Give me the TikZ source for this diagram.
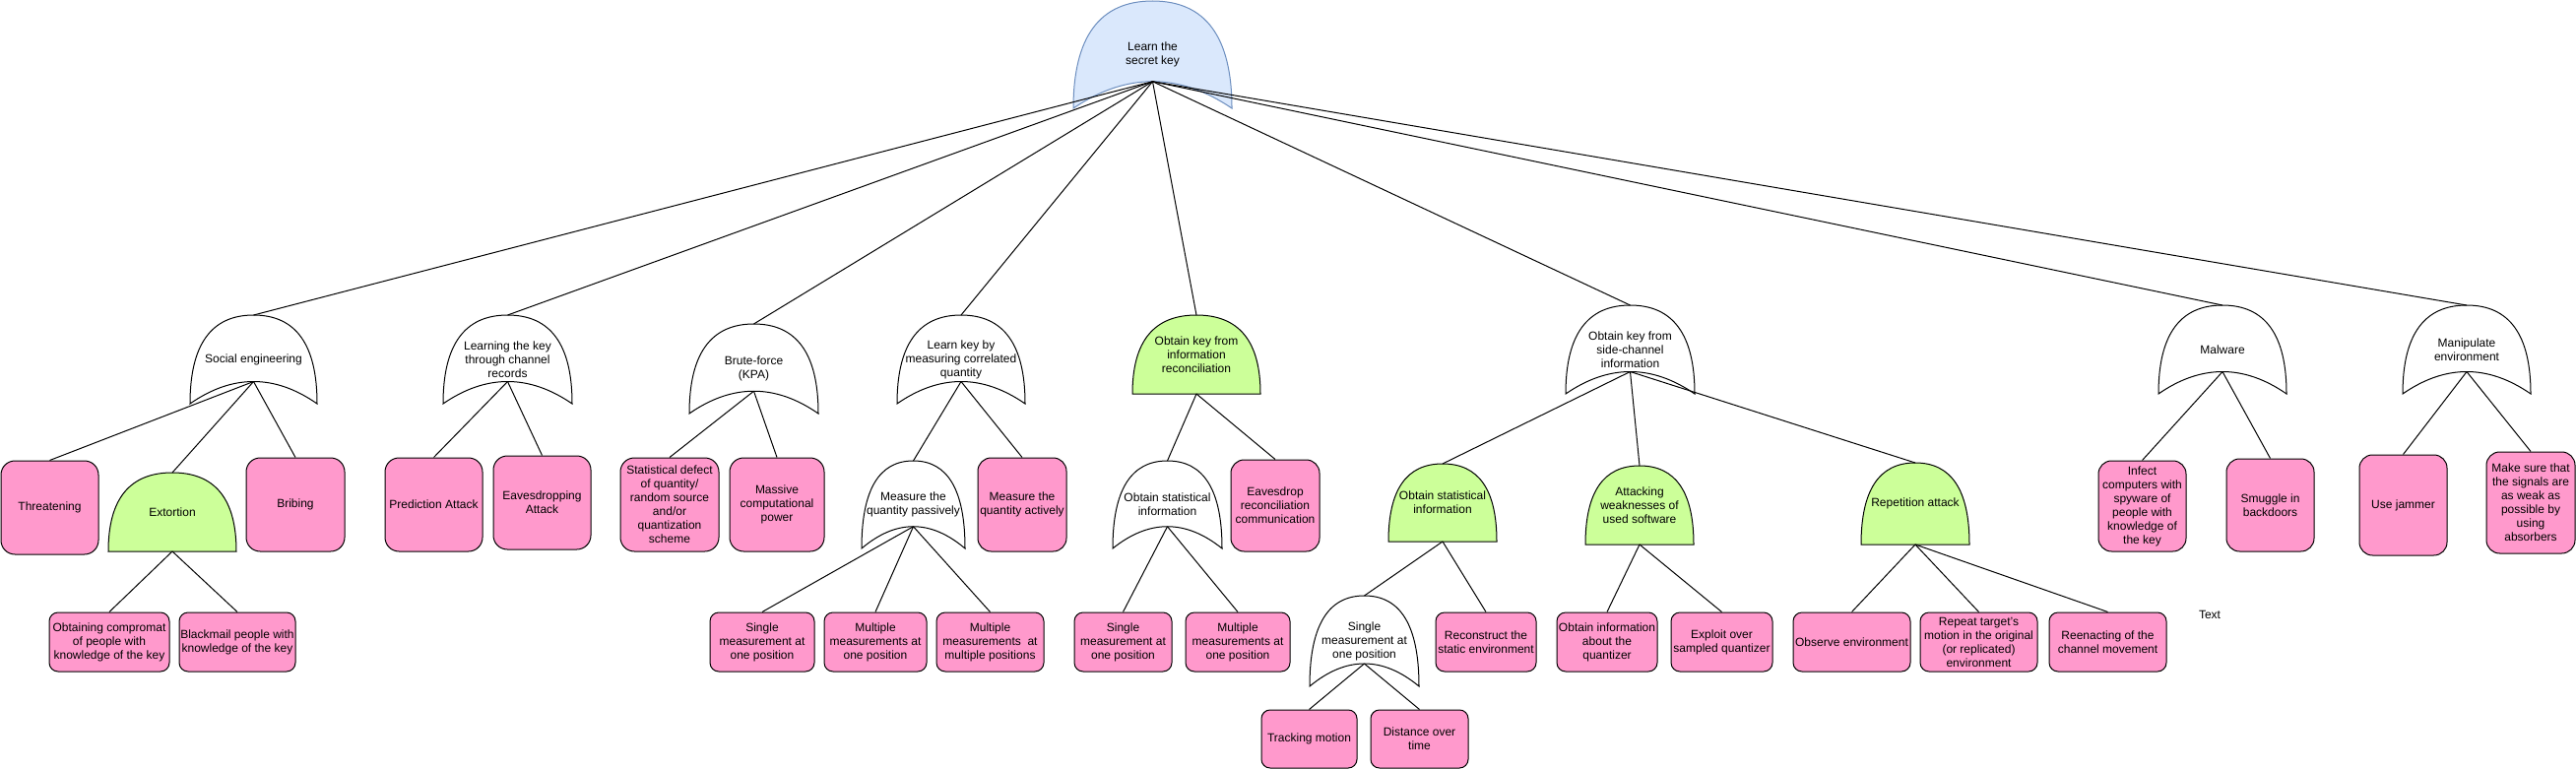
\documentclass[tikz,border=0pt]{standalone}
\usepackage{fontspec}
\setmainfont{Liberation Sans}
\definecolor{pinkc}{HTML}{FF99CC}
\definecolor{greenc}{HTML}{CCFF99}
\definecolor{rootfill}{HTML}{DAE8FC}
\definecolor{rootdraw}{HTML}{6C8EBF}
\tikzset{
  every node/.style={font=\fontsize{12}{14}\selectfont},
  gate/.style={draw=black, line width=1pt, fill=white},
  greengate/.style={draw=black, line width=1pt, fill=greenc},
  rootgate/.style={draw=rootdraw, line width=1pt, fill=rootfill},
  gtext/.style={align=center, inner sep=0pt},
  box/.style={draw=black, line width=1pt, fill=pinkc, align=center, inner sep=1pt},
  edge/.style={draw=black, line width=1pt},
}
% OR gate: style, name, L, T, R, B, text
\newcommand\orgate[7]{%
  \pgfmathsetmacro\gcx{(#3+#5)/2}%
  \pgfmathsetmacro\gw{#5-#3}%
  \pgfmathsetmacro\gh{#6-#4}%
  \draw[#1] (#3,#6) .. controls (#3,#6-2*\gh/3) and (\gcx-\gw/3,#4) .. (\gcx,#4)
     .. controls (\gcx+\gw/3,#4) and (#5,#6-2*\gh/3) .. (#5,#6)
     .. controls (#5-\gw/3,#6-\gh/3) and (#3+\gw/3,#6-\gh/3) .. cycle;
  \node[gtext] (#2) at (\gcx,{(#4+#6)/2}) {#7};
  \coordinate (#2-in) at (\gcx,#4);
  \coordinate (#2-out) at (\gcx,{#6-\gh/4});
}
% AND gate: style, name, L, T, R, B, text
\newcommand\andgate[7]{%
  \pgfmathsetmacro\gcx{(#3+#5)/2}%
  \pgfmathsetmacro\gw{#5-#3}%
  \pgfmathsetmacro\gh{#6-#4}%
  \draw[#1] (#3,#6) .. controls (#3,#6-2*\gh/3) and (\gcx-\gw/3,#4) .. (\gcx,#4)
     .. controls (\gcx+\gw/3,#4) and (#5,#6-2*\gh/3) .. (#5,#6) -- cycle;
  \node[gtext] (#2) at (\gcx,{(#4+#6)/2}) {#7};
  \coordinate (#2-in) at (\gcx,#4);
  \coordinate (#2-out) at (\gcx,#6);
}
% box: name, L, T, R, B, text
\newcommand\bx[6]{%
  \pgfmathsetmacro\bw{#4-#2}%
  \pgfmathsetmacro\bh{#5-#3}%
  \pgfmathsetmacro\br{0.15*min(\bw,\bh)}%
  \node[box, minimum width=\bw pt, minimum height=\bh pt, rounded corners=\br pt] (#1) at ({(#2+#4)/2},{(#3+#5)/2}) {#6};
}
\begin{document}
\begin{tikzpicture}[x=1pt,y=-1pt]
\useasboundingbox (0,0) rectangle (2616,781);
\fill[white] (0,0) rectangle (2616,781);

% root
\orgate{rootgate}{root}{1090}{1}{1251}{110}{Learn the\\secret key}

% level 1
\orgate{gate}{social}{193}{320}{322}{410}{Social engineering}
\orgate{gate}{chan}{450}{320}{581}{410}{Learning the key\\through channel\\records}
\orgate{gate}{brute}{700}{329}{831}{420}{Brute-force\\(KPA)}
\orgate{gate}{corr}{911}{320}{1041}{410}{Learn key by\\measuring correlated\\quantity}
\andgate{greengate}{info}{1150}{320}{1280}{400}{Obtain key from\\information\\reconciliation}
\orgate{gate}{side}{1590}{310}{1721}{400}{Obtain key from\\side-channel\\information}
\orgate{gate}{mal}{2192}{310}{2322}{400}{Malware}
\orgate{gate}{manip}{2440}{310}{2570}{400}{Manipulate\\environment}

% social engineering subtree
\bx{threat}{1}{468}{100}{563}{Threatening}
\andgate{greengate}{extort}{110}{480}{240}{560}{Extortion}
\bx{bribe}{250}{465}{350}{560}{Bribing}
\bx{compromat}{50}{622}{172}{682}{Obtaining compromat\\of people with\\knowledge of the key}
\bx{blackmail}{182}{622}{300}{682}{Blackmail people with\\knowledge of the key}

% channel records
\bx{pred}{391}{465}{490}{560}{Prediction Attack}
\bx{eavatt}{501}{463}{600}{558}{Eavesdropping\\Attack}

% brute force
\bx{statdef}{630}{465}{730}{560}{Statistical defect\\of quantity/\\random source\\and/or\\quantization\\scheme}
\bx{massive}{741}{465}{837}{560}{Massive\\computational\\power}

% correlated quantity
\orgate{gate}{passive}{875}{468}{980}{557}{Measure the\\quantity passively}
\bx{active}{993}{465}{1083}{560}{Measure the\\quantity actively}
\bx{singleA}{721}{622}{827}{682}{Single\\measurement at\\one position}
\bx{multiA}{837}{622}{941}{682}{Multiple\\measurements at\\one position}
\bx{multimulti}{951}{622}{1060}{682}{Multiple\\measurements~ at\\multiple positions}

% information reconciliation
\orgate{gate}{statw}{1130}{468}{1241}{557}{Obtain statistical\\information}
\bx{eavrec}{1250}{467}{1340}{560}{Eavesdrop\\reconciliation\\communication}
\bx{singleB}{1091}{622}{1190}{682}{Single\\measurement at\\one position}
\bx{multiB}{1204}{622}{1310}{682}{Multiple\\measurements at\\one position}

% side channel
\andgate{greengate}{statg}{1410}{471}{1520}{550}{Obtain statistical\\information}
\andgate{greengate}{attack}{1610}{473}{1720}{553}{Attacking\\weaknesses of\\used software}
\andgate{greengate}{rep}{1890}{470}{2000}{553}{Repetition attack}
\orgate{gate}{singleC}{1330}{605}{1441}{697}{Single\\measurement at\\one position}
\bx{recon}{1458}{622}{1560}{682}{Reconstruct the\\static environment}
\bx{track}{1281}{721}{1378}{780}{Tracking motion}
\bx{dist}{1392}{721}{1491}{780}{Distance over\\time}
\bx{quant}{1581}{622}{1683}{682}{Obtain information\\about the\\quantizer}
\bx{exploit}{1697}{622}{1800}{682}{Exploit over\\sampled quantizer}
\bx{observe}{1821}{622}{1940}{682}{Observe environment}
\bx{repeat}{1950}{622}{2069}{682}{Repeat target's\\motion in the original\\(or replicated)\\environment}
\bx{reenact}{2081}{622}{2200}{682}{Reenacting of the\\channel movement}

% malware
\bx{infect}{2131}{468}{2220}{560}{Infect\\computers with\\spyware of\\people with\\knowledge of\\the key}
\bx{smuggle}{2261}{466}{2350}{560}{Smuggle in\\backdoors}

% manipulate
\bx{jammer}{2396}{462}{2485}{564}{Use jammer}
\bx{makesure}{2525}{459}{2615}{562}{Make sure that\\the signals are\\as weak as\\possible by\\using\\absorbers}

\node[inner sep=0pt] (textlbl) at (2244,624) {Text};

% connectors
\foreach \t in {social,chan,brute,corr,info,side,mal,manip}
  \draw[edge] (root-out) -- (\t-in);
\draw[edge] (social-out) -- (threat.north);
\draw[edge] (social-out) -- (extort-in);
\draw[edge] (social-out) -- (bribe.north);
\draw[edge] (extort-out) -- (compromat.north);
\draw[edge] (extort-out) -- (blackmail.north);
\draw[edge] (chan-out) -- (pred.north);
\draw[edge] (chan-out) -- (eavatt.north);
\draw[edge] (brute-out) -- (statdef.north);
\draw[edge] (brute-out) -- (massive.north);
\draw[edge] (corr-out) -- (passive-in);
\draw[edge] (corr-out) -- (active.north);
\draw[edge] (passive-out) -- (singleA.north);
\draw[edge] (passive-out) -- (multiA.north);
\draw[edge] (passive-out) -- (multimulti.north);
\draw[edge] (info-out) -- (statw-in);
\draw[edge] (info-out) -- (eavrec.north);
\draw[edge] (statw-out) -- (singleB.north);
\draw[edge] (statw-out) -- (multiB.north);
\draw[edge] (side-out) -- (statg-in);
\draw[edge] (side-out) -- (attack-in);
\draw[edge] (side-out) -- (rep-in);
\draw[edge] (statg-out) -- (singleC-in);
\draw[edge] (statg-out) -- (recon.north);
\draw[edge] (singleC-out) -- (track.north);
\draw[edge] (singleC-out) -- (dist.north);
\draw[edge] (attack-out) -- (quant.north);
\draw[edge] (attack-out) -- (exploit.north);
\draw[edge] (rep-out) -- (observe.north);
\draw[edge] (rep-out) -- (repeat.north);
\draw[edge] (rep-out) -- (reenact.north);
\draw[edge] (mal-out) -- (infect.north);
\draw[edge] (mal-out) -- (smuggle.north);
\draw[edge] (manip-out) -- (jammer.north);
\draw[edge] (manip-out) -- (makesure.north);
\end{tikzpicture}
\end{document}
